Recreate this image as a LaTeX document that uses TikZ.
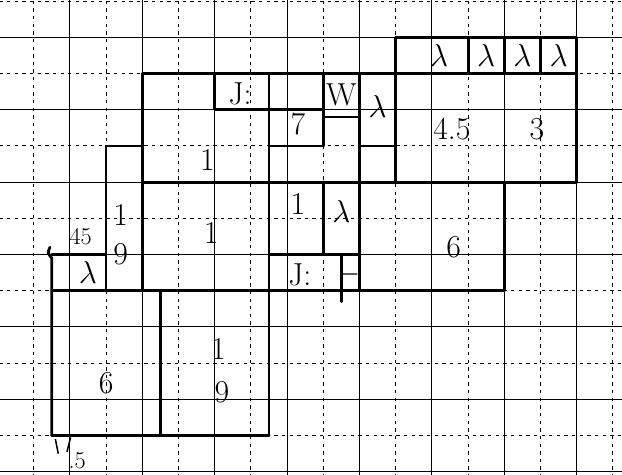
\documentclass[tikz,border=0pt]{standalone}
\tikzset{
  major/.style={line width=0.8pt},
  minor/.style={line width=0.8pt, dash pattern=on 2.6pt off 3.4pt},
  wall/.style={line width=2.2pt, line cap=round, line join=round},
  lbl/.style={font=\fontsize{25}{30}\selectfont, inner sep=0pt},
  small/.style={font=\fontsize{19}{22}\selectfont, inner sep=0pt}
}
\begin{document}
\begin{tikzpicture}
      \useasboundingbox (0.07,-0.07) rectangle (17.25,13.03);
      \clip (0.07,-0.07) rectangle (17.25,13.03);
      % squared paper
      \foreach \i in {0,2,...,16} \draw[major] (\i,-1) -- (\i,14);
      \foreach \i in {1,3,...,17} \draw[minor] (\i,-1) -- (\i,14);
      \foreach \j in {0,2,...,12} \draw[major] (-1,\j) -- (18,\j);
      \foreach \j in {1,3,...,13} \draw[minor] (-1,\j) -- (18,\j);
      \begin{scope}[wall]
        % top strip
        \draw (11,11) rectangle (16,12);
        \draw (13,11) -- (13,12);
        \draw (14,11) -- (14,12);
        \draw (15,11) -- (15,12);
        \draw (11,8) rectangle (16,11);
        % upper block
        \draw (4,11) -- (11,11);
        \draw (6,10) rectangle (7.5,11);
        \draw (7.5,11) -- (7.5,1);
        \draw (4,11) -- (4,5);
        \draw (4,8) -- (16,8);
        \draw (7.5,10) -- (9,10);
        \draw (7.5,9) -- (9,9);
        \draw (9,11) -- (9,9);
        \draw (9,9.8) -- (10,9.8);
        \draw (10,11) -- (10,5);
        \draw (10,9) -- (11,9);
        % left column
        \draw (3,9) -- (4,9);
        \draw (3,9) -- (3,5);
        \draw (1.5,6) -- (3,6);
        \draw (1.45,6.2) .. controls (1.38,6.05) .. (1.5,5.9) -- (1.5,1);
        % middle band
        \draw (1.5,5) -- (14,5);
        \draw (14,8) -- (14,5);
        \draw (9,8) -- (9,6);
        \draw (7.5,6) -- (10,6);
        \draw (9.5,6) -- (9.5,4.7);
        % bottom block
        \draw (1.5,1) -- (7.5,1);
        \draw (4.5,5) -- (4.5,1);
      \end{scope}
      % pen marks under the bottom block
      \draw[line width=1.2pt] (1.6,0.9) -- (1.68,0.5);
      \draw[line width=1.2pt] (1.92,0.55) -- (2.02,0.95);
      \draw
        (12.2,11.5) node[lbl] (lamA){$\lambda$}
        (13.5,11.5) node[lbl] (lamB){$\lambda$}
        (14.5,11.5) node[lbl] (lamC){$\lambda$}
        (15.5,11.5) node[lbl] (lamD){$\lambda$}
        (12.55,9.45) node[lbl] (big45){4.5}
        (14.9,9.45) node[lbl] (big3){3}
        (9.5,10.4) node[lbl] (w){W}
        (10.5,10.1) node[lbl] (lamE){$\lambda$}
        (8.3,9.6) node[lbl] (seven){7}
        (6.7,10.45) node[lbl] (jtop){J:}
        (5.8,8.6) node[lbl] (oneA){1}
        (3.4,7.1) node[lbl] (oneB){1}
        (3.4,6.0) node[lbl] (nineB){9}
        (2.3,6.5) node[small] (left45){45}
        (2.5,5.5) node[lbl] (lamF){$\lambda$}
        (5.9,6.6) node[lbl] (oneC){1}
        (8.3,7.4) node[lbl] (oneD){1}
        (9.5,7.2) node[lbl] (lamG){$\lambda$}
        (8.35,5.45) node[lbl] (jmid){J:}
        (9.75,5.45) node[lbl] (tee){$\vdash$}
        (12.6,6.2) node[lbl] (bigsix){6}
        (3.0,2.45) node[lbl] (six){6}
        (6.1,3.4) node[lbl] (oneE){1}
        (6.2,2.2) node[lbl] (nineE){9}
        (2.2,0.3) node[small] (half){.5};
    \end{tikzpicture}
\end{document}
